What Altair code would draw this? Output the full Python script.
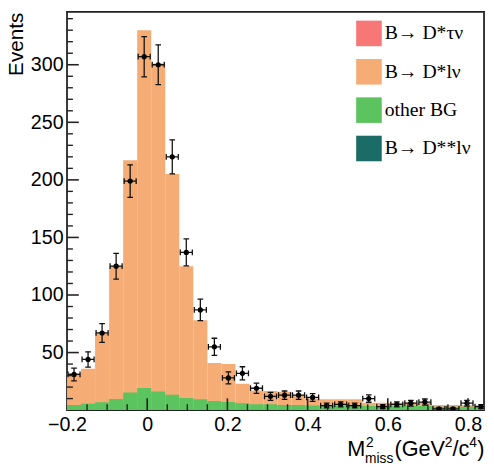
import altair as alt
import pandas as pd

# ---- histogram binning (30 bins of width 0.035 starting at -0.2) ----
bin_lo = [-0.2, -0.165, -0.13, -0.095, -0.06, -0.025, 0.01, 0.045, 0.08, 0.115,
          0.15, 0.185, 0.22, 0.255, 0.29, 0.325, 0.36, 0.395, 0.43, 0.465,
          0.5, 0.535, 0.57, 0.605, 0.64, 0.675, 0.71, 0.745, 0.78, 0.815]
bin_w = 0.035

# MC stack: total height (B->D*lnu on top of other BG) and other BG
mc_total = [32, 36, 67, 125, 217, 330, 301, 205, 125, 78,
            41, 40, 23, 17, 16.5, 16, 13, 10, 9.5, 9.5,
            9.5, 6.5, 6.5, 6.5, 6.5, 6.5, 4.5, 4.5, 4.5, 4.5]
other_bg = [4.5, 5.6, 6.8, 9.6, 15.3, 19.3, 16.1, 13.3, 10.5, 9.5,
            8, 7, 6, 5, 5, 4.5, 4.5, 4, 4, 4,
            4, 3.5, 3.5, 3.5, 3.5, 3.5, 3, 3, 3, 3]

# data points with errors
data_n = [31, 44, 67, 125, 199, 307, 300, 220, 137, 87,
          55, 28, 32, 19, 12, 13, 13, 11, 4, 5,
          4, 10, 3, 5, 6, 7, 1, 1, 6, 3]
data_err = [5.57, 6.63, 8.19, 11.18, 14.11, 17.52, 17.32, 14.83, 11.70, 9.33,
            7.42, 5.29, 5.66, 4.36, 3.46, 3.61, 3.61, 3.32, 2.0, 2.24,
            2.0, 3.16, 1.73, 2.24, 2.45, 2.65, 1.0, 1.0, 2.45, 1.73]
x_err = 0.015

comp_names = ["B\u2192 D*\u03c4\u03bd", "B\u2192 D*l\u03bd", "other BG", "B\u2192 D**l\u03bd"]
comp_colors = ["#f77676", "#f5ad75", "#5cc45f", "#1b6b67"]

y_major = [50, 100, 150, 200, 250, 300]
y_minor = [10, 20, 30, 40, 60, 70, 80, 90, 110, 120, 130, 140, 160, 170, 180, 190,
           210, 220, 230, 240, 260, 270, 280, 290, 310, 320, 330, 340]
x_labels = [-0.2, 0, 0.2, 0.4, 0.6, 0.8]
x_major = [0, 0.2, 0.4, 0.6, 0.8]
x_minor = [-0.15, -0.1, -0.05, 0.05, 0.1, 0.15, 0.25, 0.3, 0.35, 0.45, 0.5, 0.55,
           0.65, 0.7, 0.75]

W, H = 424, 405

hist = pd.DataFrame({
    "lo": bin_lo,
    "hi": [v + bin_w for v in bin_lo],
    "c": [v + bin_w / 2 for v in bin_lo],
    "total": mc_total,
    "other": other_bg,
    "n": data_n,
    "err": data_err,
})
hist["zero"] = 0
hist["nlo"] = hist["n"] - hist["err"]
hist["nhi"] = hist["n"] + hist["err"]
hist["xl"] = hist["c"] - x_err
hist["xh"] = hist["c"] + x_err
hist["cl"] = hist["c"] - 0.007
hist["ch"] = hist["c"] + 0.007
hist["ylo_c"] = hist["n"] - 2.5
hist["yhi_c"] = hist["n"] + 2.5
hist["comp_mc"] = comp_names[1]
hist["comp_bg"] = comp_names[2]

xs = alt.Scale(domain=[-0.2, 0.84], nice=False, zero=False, padding=0)
ys = alt.Scale(domain=[0, 346], nice=False, zero=True, padding=0)
cs = alt.Scale(domain=comp_names, range=comp_colors)

xaxis = alt.Axis(values=x_labels, ticks=False, domain=False, grid=False,
                 labelFont="Liberation Sans", labelFontSize=20, labelColor="black",
                 labelPadding=5, title=None, labelFlush=False, labelOverlap=False,
                 labelExpr="datum.value == 0 ? '0' : format(datum.value, '.1f')")
yaxis = alt.Axis(values=y_major, ticks=False, domain=False, grid=False,
                 labelFont="Liberation Sans", labelFontSize=20, labelColor="black",
                 labelPadding=4, title=None, labelFlush=False, labelOverlap=False)

base = alt.Chart(hist)

bars_mc = base.mark_bar(clip=True, strokeWidth=0).encode(
    x=alt.X("lo:Q", scale=xs, axis=xaxis),
    x2="hi:Q",
    y=alt.Y("total:Q", scale=ys, axis=yaxis),
    y2="zero:Q",
    color=alt.Color("comp_mc:N", scale=cs, title=None),
)
bars_bg = base.mark_bar(clip=True, strokeWidth=0).encode(
    x=alt.X("lo:Q", scale=xs),
    x2="hi:Q",
    y=alt.Y("other:Q", scale=ys),
    y2="zero:Q",
    color=alt.Color("comp_bg:N", scale=cs, title=None),
)

ecol = "#111"
vbar = base.mark_rule(color=ecol, strokeWidth=1.3, clip=True).encode(
    x=alt.X("c:Q", scale=xs), y=alt.Y("nlo:Q", scale=ys), y2="nhi:Q")
hbar = base.mark_rule(color=ecol, strokeWidth=1.3, clip=True).encode(
    x=alt.X("xl:Q", scale=xs), x2="xh:Q", y=alt.Y("n:Q", scale=ys))
cap_lo = base.mark_rule(color=ecol, strokeWidth=1.3, clip=True).encode(
    x=alt.X("cl:Q", scale=xs), x2="ch:Q", y=alt.Y("nlo:Q", scale=ys))
cap_hi = base.mark_rule(color=ecol, strokeWidth=1.3, clip=True).encode(
    x=alt.X("cl:Q", scale=xs), x2="ch:Q", y=alt.Y("nhi:Q", scale=ys))
capl = base.mark_rule(color=ecol, strokeWidth=1.3, clip=True).encode(
    x=alt.X("xl:Q", scale=xs), y=alt.Y("ylo_c:Q", scale=ys), y2="yhi_c:Q")
caph = base.mark_rule(color=ecol, strokeWidth=1.3, clip=True).encode(
    x=alt.X("xh:Q", scale=xs), y=alt.Y("ylo_c:Q", scale=ys), y2="yhi_c:Q")
pts = base.mark_circle(color="black", opacity=1, size=28, clip=True).encode(
    x=alt.X("c:Q", scale=xs), y=alt.Y("n:Q", scale=ys))

tcol = "#222"
ytk_major = alt.Chart(pd.DataFrame({"v": y_major})).mark_rule(color=tcol, strokeWidth=1.6).encode(
    y=alt.Y("v:Q", scale=ys), x=alt.value(0), x2=alt.value(12))
ytk_minor = alt.Chart(pd.DataFrame({"v": y_minor})).mark_rule(color=tcol, strokeWidth=1.4).encode(
    y=alt.Y("v:Q", scale=ys), x=alt.value(0), x2=alt.value(6))
xtk_major = alt.Chart(pd.DataFrame({"v": x_major})).mark_rule(color=tcol, strokeWidth=1.6).encode(
    x=alt.X("v:Q", scale=xs), y=alt.value(H), y2=alt.value(H - 12))
xtk_minor = alt.Chart(pd.DataFrame({"v": x_minor})).mark_rule(color=tcol, strokeWidth=1.4).encode(
    x=alt.X("v:Q", scale=xs), y=alt.value(H), y2=alt.value(H - 6))

one = alt.Chart(pd.DataFrame({"a": [0]}))
tfont = "Liberation Sans"


def txt(s, x, y, size, **kw):
    return one.mark_text(text=s, align="left", baseline="alphabetic", font=tfont,
                         fontSize=size, color="black", **kw).encode(
        x=alt.value(x), y=alt.value(y))


t_events = one.mark_text(text="Events", angle=270, align="right", baseline="middle",
                         font=tfont, fontSize=21, color="black").encode(
    x=alt.value(-51), y=alt.value(1))
t_M = txt("M", 285, 452, 22)
t_sup2 = txt("2", 304, 442, 14)
t_miss = txt("miss", 303, 459, 14)
t_gev = txt("(GeV", 333, 452, 22)
t_sup2b = txt("2", 384, 442, 14)
t_c = txt("/c", 392, 452, 22)
t_sup4 = txt("4", 409, 442, 14)
t_par = txt(")", 417, 452, 22)

chart = alt.layer(
    bars_mc, bars_bg, vbar, hbar, cap_lo, cap_hi, capl, caph, pts,
    ytk_major, ytk_minor, xtk_major, xtk_minor,
    t_events, t_M, t_sup2, t_miss, t_gev, t_sup2b, t_c, t_sup4, t_par,
).properties(
    width=W, height=H,
    autosize=alt.AutoSizeParams(type="none"),
    padding={"left": 60, "top": 0, "right": 2, "bottom": 55},
).configure_view(
    stroke="#222", strokeWidth=1.8
).configure_legend(
    orient="none", legendX=294, legendY=9, symbolType="square", symbolSize=676,
    labelFont="Liberation Serif", labelFontSize=20, labelColor="black",
    rowPadding=13, labelOffset=3, padding=0, symbolStrokeWidth=0, symbolOpacity=1,
)

chart.save("out.html", embed_options={"renderer": "svg", "actions": False})
